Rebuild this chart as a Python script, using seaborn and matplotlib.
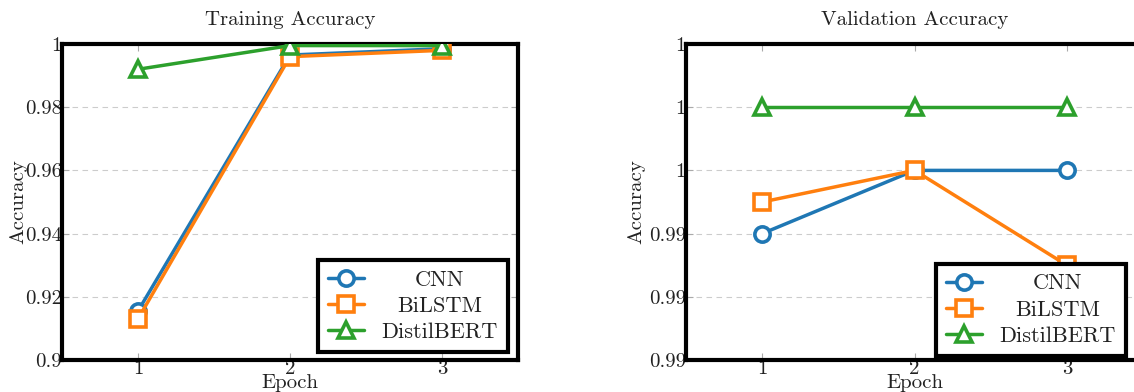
import pandas as pd
import seaborn as sns
import matplotlib.pyplot as plt
from matplotlib.ticker import FuncFormatter, MultipleLocator


# values
epochs = [1, 2, 3]
models = ['CNN', 'BiLSTM', 'DistilBERT']
train_cnn = [0.9155, 0.9965, 0.9985]
train_bilstm = [0.913, 0.996, 0.998]
train_distilbert = [0.992, 0.9995, 0.9995]
val_cnn = [0.994, 0.996, 0.996]
val_bilstm = [0.995, 0.996, 0.993]
val_distilbert = [0.998, 0.998, 0.998]

sns.set_theme(style='white')
plt.rcParams['font.family'] = ['cmr10', 'DejaVu Serif']
plt.rcParams['mathtext.fontset'] = 'cm'
plt.rcParams['axes.unicode_minus'] = False

colors = sns.color_palette('tab10', 3)
markers = ['o', 's', '^']


def fmt(v, pos):
    return f'{v:.2f}'.rstrip('0').rstrip('.')


def draw(ax, series, title, ylim, ystep, legend_anchor, ylab_x):
    for name, vals, c, m in zip(models, series, colors, markers):
        df = pd.DataFrame({'Epoch': epochs, 'Accuracy': vals})
        sns.lineplot(data=df, x='Epoch', y='Accuracy', ax=ax, color=c,
                     marker=m, markersize=11, markerfacecolor='white',
                     markeredgecolor=c, markeredgewidth=2.6, linewidth=2.5,
                     label=name, zorder=3)
    ax.set_xlim(0.5, 3.5)
    ax.set_ylim(*ylim)
    ax.xaxis.set_major_locator(MultipleLocator(1))
    ax.yaxis.set_major_locator(MultipleLocator(ystep))
    ax.yaxis.set_major_formatter(FuncFormatter(fmt))
    ax.grid(axis='y', color='#cccccc', linestyle=(0, (5, 4)), linewidth=0.8)
    ax.grid(axis='x', visible=False)
    ax.tick_params(direction='in', length=5, width=0.8, color='#aaaaaa',
                   labelsize=15, labelcolor='#222222', top=True, right=True,
                   bottom=True, left=True)
    ax.tick_params(axis='x', pad=0)
    ax.tick_params(axis='y', pad=0)
    for s in ax.spines.values():
        s.set_visible(True)
        s.set_color('black')
        s.set_linewidth(3)
    ax.set_title(title, fontsize=15, pad=14, color='#222222')
    ax.set_xlabel('Epoch', fontsize=15, color='#222222')
    ax.set_ylabel('Accuracy', fontsize=15, color='#222222')
    ax.xaxis.set_label_coords(0.5, -0.045)
    ax.yaxis.set_label_coords(ylab_x, 0.5)
    leg = ax.legend(loc='lower right', bbox_to_anchor=legend_anchor,
                    borderaxespad=0, fontsize=16, fancybox=False,
                    framealpha=1, edgecolor='black', handlelength=1.6,
                    handletextpad=0.8, borderpad=0.45, labelspacing=0.3)
    leg.get_frame().set_linewidth(3)
    for t in leg.get_texts():
        t.set_color('#222222')
    return leg


fig = plt.figure(figsize=(11.34, 3.92), dpi=100)
ax1 = fig.add_axes([62 / 1134, 32 / 392, 456 / 1134, 316 / 392])
ax2 = fig.add_axes([686 / 1134, 32 / 392, 457 / 1134, 316 / 392])

legs = [
    draw(ax1, [train_cnn, train_bilstm, train_distilbert], 'Training Accuracy',
         (0.9, 1.0), 0.02, (0.978, 0.025), -0.077),
    draw(ax2, [val_cnn, val_bilstm, val_distilbert], 'Validation Accuracy',
         (0.99, 1.0), 0.002, (0.963, 0.013), -0.088),
]

# centre the legend labels in their column, like the reference
fig.canvas.draw()
renderer = fig.canvas.get_renderer()
for leg in legs:
    texts = leg.get_texts()
    widths = [t.get_window_extent(renderer).width for t in texts]
    wmax = max(widths)
    for t, w in zip(texts, widths):
        t.set_x((wmax - w) / 2)

fig.savefig('out.png', dpi=100)
